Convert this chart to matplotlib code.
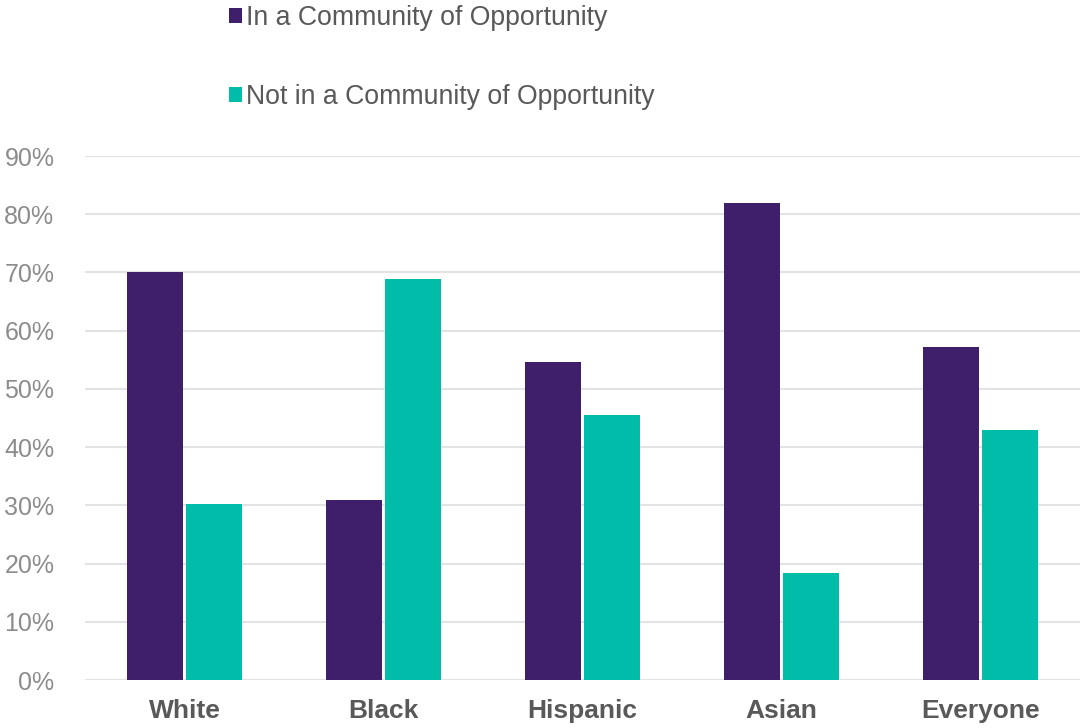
import matplotlib
matplotlib.use("Agg")
import matplotlib.pyplot as plt
import numpy as np

plt.rcParams['font.family'] = ['Liberation Sans', 'DejaVu Sans']

categories = ['White', 'Black', 'Hispanic', 'Asian', 'Everyone']
in_coo = [70.0, 30.9, 54.6, 81.9, 57.2]
not_in_coo = [30.2, 68.9, 45.5, 18.4, 42.9]
series_names = ['In a Community of Opportunity', 'Not in a Community of Opportunity']
purple = '#3F1F6A'
teal = '#00BDAA'

fig = plt.figure(figsize=(10.84, 7.28), dpi=100)
ax = fig.add_axes([85 / 1084, 1 - 680 / 728, 995 / 1084, 524 / 728])

x = np.arange(len(categories))
w = 0.28
b1 = ax.bar(x - 0.148, in_coo, w, color=purple, label=series_names[0], zorder=3)
b2 = ax.bar(x + 0.148, not_in_coo, w, color=teal, label=series_names[1], zorder=3)

ax.set_xlim(-0.5, len(categories) - 0.5)
ax.set_ylim(0, 90)
ax.set_yticks(range(0, 91, 10))
ax.set_yticklabels([f'{v}%' for v in range(0, 91, 10)])
ax.grid(axis='y', color='#E3E3E3', linewidth=1.5, zorder=0)
ax.set_axisbelow(True)
for s in ax.spines.values():
    s.set_visible(False)
ax.tick_params(axis='y', length=0, labelsize=18, labelcolor='#8C8C8C', pad=22)
ax.tick_params(axis='x', length=0, labelsize=19, labelcolor='#595959', pad=14)
ax.set_xticks(x)
ax.set_xticklabels(categories, fontweight='bold')

fig.legend(handles=[b1, b2], loc='upper left', bbox_to_anchor=(218 / 1084, 1.008),
           frameon=False, fontsize=19.2, labelcolor='#595959',
           handlelength=0.5, handleheight=0.5, handletextpad=0.15,
           labelspacing=2.0, borderaxespad=0)

fig.savefig('out.png', dpi=100)
